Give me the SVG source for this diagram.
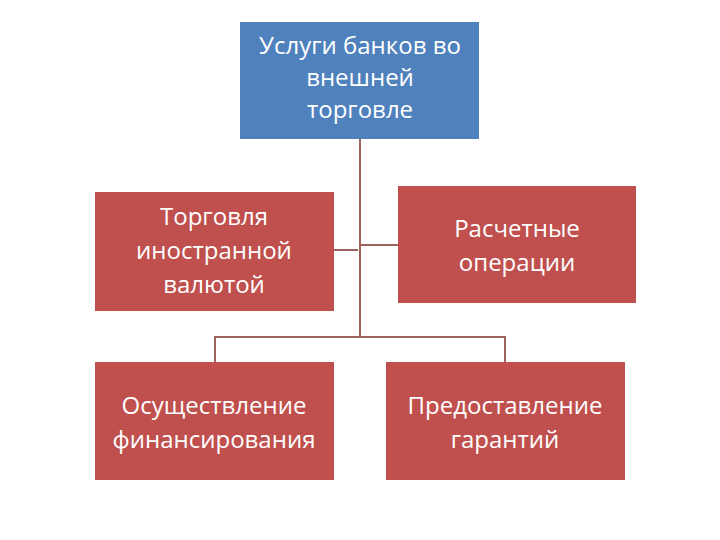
<svg xmlns="http://www.w3.org/2000/svg" width="720" height="540" viewBox="0 0 720 540">
<style>
.r{fill:#C0504D}
.b{fill:#4F81BD}
.t{font-family:"Open Sans","Liberation Sans",sans-serif;font-size:24px;fill:#fff;text-anchor:middle}
.c{stroke:#A0625C;stroke-width:2;fill:none}
</style>
<rect width="720" height="540" fill="#fff"/>
<g id="connectors">
<path class="c" d="M360 139V337M215 362V337H505V362M334 250H358M361 245H398"/>
</g>
<g id="top"><rect class="b" x="240" y="22" width="239" height="117"/>
<text class="t" x="360" y="54">Услуги банков во</text><text class="t" x="360" y="86">внешней</text><text class="t" x="360" y="118">торговле</text></g>
<g id="n1"><rect class="r" x="95" y="192" width="239" height="119"/>
<text class="t" x="214" y="225">Торговля</text><text class="t" x="214" y="259">иностранной</text><text class="t" x="214" y="293">валютой</text></g>
<g id="n2"><rect class="r" x="398" y="186" width="238" height="117"/>
<text class="t" x="517" y="237">Расчетные</text><text class="t" x="517" y="271">операции</text></g>
<g id="n3"><rect class="r" x="95" y="362" width="239" height="118"/>
<text class="t" x="214" y="414">Осуществление</text><text class="t" x="214" y="448">финансирования</text></g>
<g id="n4"><rect class="r" x="386" y="362" width="239" height="118"/>
<text class="t" x="505" y="414">Предоставление</text><text class="t" x="505" y="448">гарантий</text></g>
</svg>
